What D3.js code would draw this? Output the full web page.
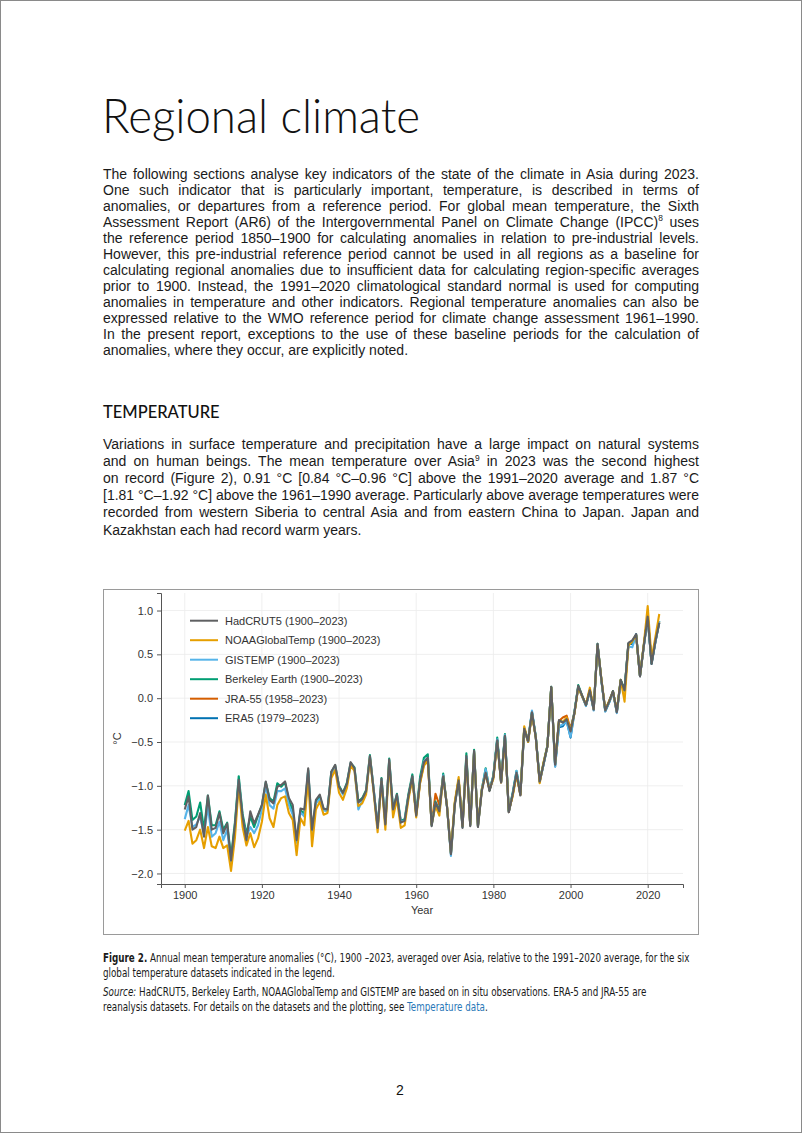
<!DOCTYPE html>
<html><head><meta charset="utf-8">
<script src="https://cdn.jsdelivr.net/npm/d3@7"></script>
<style>
html,body{margin:0;padding:0;background:#fff;}
svg{display:block;}
</style></head><body>
<svg id="page" width="802" height="1133"></svg>
<script>
// ---------------- DATA ----------------
const startYear = 1900;
const hadcrut5 = [
-1.27,-1.12,-1.50,-1.47,-1.31,-1.58,-1.11,-1.50,-1.48,-1.31,
-1.54,-1.43,-1.85,-1.45,-0.93,-1.35,-1.62,-1.29,-1.43,-1.33,
-1.22,-0.95,-1.16,-1.20,-1.01,-0.99,-0.95,-1.14,-1.22,-1.62,
-1.26,-1.27,-0.80,-1.50,-1.16,-1.10,-1.26,-1.27,-0.84,-0.76,
-1.01,-1.08,-0.98,-0.73,-0.80,-1.19,-1.15,-1.06,-0.66,-1.06,
-1.48,-0.92,-1.44,-0.70,-1.27,-1.10,-1.42,-1.40,-1.11,-0.89,
-1.34,-0.94,-0.73,-0.68,-1.46,-1.19,-1.29,-0.89,-1.25,-1.78,
-1.22,-0.94,-1.48,-0.66,-1.46,-0.60,-1.47,-1.06,-0.85,-1.06,
-0.90,-0.48,-0.96,-0.43,-1.30,-1.10,-0.85,-1.11,-0.35,-0.49,
-0.16,-0.45,-0.95,-0.75,-0.55,0.13,-0.76,-0.25,-0.28,-0.24,
-0.38,-0.17,0.14,0.03,-0.08,0.09,-0.13,0.62,0.21,-0.14,
-0.04,0.08,-0.16,0.21,0.09,0.63,0.66,0.73,0.25,0.60,
0.93,0.39,0.65,0.86];
const noaaGlobalTemp = [
-1.51,-1.40,-1.66,-1.62,-1.50,-1.71,-1.47,-1.69,-1.71,-1.58,
-1.71,-1.68,-1.97,-1.60,-0.99,-1.47,-1.68,-1.54,-1.70,-1.60,
-1.41,-1.10,-1.37,-1.47,-1.22,-1.14,-1.12,-1.31,-1.39,-1.79,
-1.37,-1.45,-0.91,-1.69,-1.27,-1.18,-1.33,-1.31,-0.91,-0.82,
-1.08,-1.16,-1.03,-0.77,-0.83,-1.23,-1.20,-1.10,-0.68,-1.09,
-1.53,-0.95,-1.50,-0.73,-1.36,-1.15,-1.48,-1.45,-1.15,-0.92,
-1.36,-0.97,-0.77,-0.72,-1.44,-1.23,-1.34,-0.90,-1.24,-1.76,
-1.18,-0.90,-1.46,-0.70,-1.44,-0.62,-1.45,-1.04,-0.87,-1.04,
-0.92,-0.50,-0.96,-0.47,-1.28,-1.12,-0.88,-1.10,-0.32,-0.50,
-0.18,-0.45,-0.97,-0.73,-0.55,0.12,-0.74,-0.26,-0.27,-0.22,
-0.36,-0.18,0.12,0.02,-0.07,0.12,-0.12,0.60,0.22,-0.13,
-0.03,0.07,-0.14,0.21,-0.04,0.60,0.65,0.72,0.26,0.62,
1.05,0.45,0.70,0.96];
const gistemp = [
-1.38,-1.22,-1.47,-1.44,-1.35,-1.56,-1.24,-1.58,-1.54,-1.41,
-1.62,-1.50,-1.89,-1.52,-0.94,-1.38,-1.58,-1.47,-1.54,-1.45,
-1.27,-1.00,-1.22,-1.26,-1.06,-1.06,-1.03,-1.22,-1.33,-1.65,
-1.30,-1.35,-0.83,-1.55,-1.20,-1.15,-1.28,-1.29,-0.86,-0.79,
-1.02,-1.10,-1.00,-0.75,-0.81,-1.27,-1.17,-1.08,-0.67,-1.05,
-1.47,-0.93,-1.42,-0.71,-1.30,-1.11,-1.41,-1.40,-1.12,-0.90,
-1.33,-0.95,-0.72,-0.68,-1.44,-1.20,-1.30,-0.88,-1.24,-1.80,
-1.21,-0.95,-1.47,-0.67,-1.45,-0.61,-1.46,-1.04,-0.81,-1.04,
-0.89,-0.47,-0.95,-0.42,-1.29,-1.09,-0.83,-1.09,-0.36,-0.48,
-0.14,-0.44,-0.96,-0.76,-0.55,0.12,-0.78,-0.32,-0.30,-0.27,
-0.44,-0.16,0.13,0.02,-0.09,0.08,-0.14,0.61,0.20,-0.15,
-0.05,0.06,-0.17,0.19,0.08,0.59,0.58,0.72,0.25,0.59,
0.92,0.40,0.64,0.88];
const berkeleyEarth = [
-1.22,-1.06,-1.39,-1.35,-1.19,-1.50,-1.11,-1.45,-1.45,-1.29,
-1.50,-1.42,-1.82,-1.42,-0.89,-1.32,-1.55,-1.35,-1.47,-1.34,
-1.22,-0.96,-1.14,-1.18,-0.97,-1.01,-0.96,-1.17,-1.28,-1.63,
-1.28,-1.32,-0.82,-1.52,-1.18,-1.12,-1.27,-1.27,-0.84,-0.77,
-1.00,-1.08,-0.97,-0.74,-0.79,-1.18,-1.14,-1.05,-0.65,-1.05,
-1.47,-0.91,-1.43,-0.69,-1.27,-1.09,-1.40,-1.38,-1.09,-0.87,
-1.31,-0.90,-0.68,-0.64,-1.45,-1.18,-1.28,-0.86,-1.25,-1.77,
-1.20,-0.93,-1.47,-0.63,-1.45,-0.59,-1.46,-1.04,-0.80,-1.05,
-0.88,-0.45,-0.95,-0.41,-1.29,-1.08,-0.83,-1.08,-0.34,-0.48,
-0.16,-0.44,-0.94,-0.74,-0.54,0.13,-0.75,-0.26,-0.27,-0.25,
-0.38,-0.16,0.15,0.03,-0.08,0.09,-0.12,0.62,0.21,-0.14,
-0.04,0.08,-0.15,0.21,0.10,0.62,0.64,0.72,0.26,0.61,
0.94,0.40,0.66,0.88];
const jra55Start = 1958;
const jra55 = [
-1.12,-0.90,
-1.33,-0.96,-0.75,-0.71,-1.44,-1.09,-1.22,-0.88,-1.24,-1.77,
-1.20,-0.93,-1.46,-0.69,-1.45,-0.61,-1.46,-1.05,-0.84,-1.05,
-0.90,-0.48,-0.96,-0.44,-1.30,-1.10,-0.86,-1.10,-0.35,-0.49,
-0.17,-0.45,-0.95,-0.75,-0.55,0.12,-0.76,-0.26,-0.22,-0.20,
-0.35,-0.17,0.13,0.03,-0.08,0.09,-0.13,0.61,0.21,-0.14,
-0.04,0.08,-0.16,0.20,0.09,0.62,0.64,0.72,0.25,0.60,
0.93,0.40,0.65,0.87];
const era5Start = 1979;
const era5 = [
-1.05,
-0.90,-0.48,-0.96,-0.43,-1.30,-1.10,-0.86,-1.10,-0.36,-0.50,
-0.16,-0.45,-0.95,-0.76,-0.55,0.12,-0.78,-0.33,-0.32,-0.26,
-0.45,-0.17,0.13,0.02,-0.08,0.08,-0.13,0.61,0.20,-0.15,
-0.05,0.07,-0.16,0.20,0.09,0.62,0.62,0.73,0.25,0.60,
0.92,0.39,0.64,0.86];

const seriesLabels = ["HadCRUT5 (1900–2023)","NOAAGlobalTemp (1900–2023)","GISTEMP (1900–2023)","Berkeley Earth (1900–2023)","JRA-55 (1958–2023)","ERA5 (1979–2023)"];
const seriesValues = [hadcrut5, noaaGlobalTemp, gistemp, berkeleyEarth, jra55, era5];
const seriesStarts = [startYear, startYear, startYear, startYear, jra55Start, era5Start];
const xTickValues = [1900,1920,1940,1960,1980,2000,2020];
const yTickValues = [-2.0,-1.5,-1.0,-0.5,0.0,0.5,1.0];

// styles (kept apart from data)
const seriesColors = ["#5f6062","#E69F00","#56B4E9","#009E73","#D55E00","#0072B2"];
const drawOrder = [5,4,3,2,1,0];

// ---------------- PAGE ----------------
const svg = d3.select("#page");
svg.append("rect").attr("width",802).attr("height",1133).attr("fill","#fff");
svg.append("rect").attr("x",0.5).attr("y",0.5).attr("width",801).attr("height",1132)
  .attr("fill","none").attr("stroke","#8a8a8a").attr("stroke-width",1);

svg.append("text").attr("x",102).attr("y",133)
  .attr("font-family","Lato, 'Open Sans', sans-serif").attr("font-weight",300)
  .attr("font-size",48).attr("fill","#111")
  .attr("textLength",318).attr("lengthAdjust","spacingAndGlyphs").text("Regional climate");

const bodyFont = "'Liberation Sans', Arial, sans-serif";
const bodySize = 14.0;
function addLine(parent, str, x, y, size, ls) {
  const t = parent.append("text").attr("x",x).attr("y",y)
    .attr("font-family",bodyFont).attr("font-size",size).attr("fill","#1a1a1a")
    .style("letter-spacing", (ls || 0) + "px");
  const parts = str.split(/(\^\d)/);
  let sup = false;
  parts.forEach(p => {
    if (!p) return;
    if (p.startsWith("^")) {
      t.append("tspan").attr("font-size",size*0.6).attr("dy",-size*0.38).text(p.slice(1));
      sup = true;
    } else {
      const ts = t.append("tspan").text(p);
      if (sup) { ts.attr("dy",size*0.38); sup = false; }
    }
  });
  return t;
}

const para1 = [
"The following sections analyse key indicators of the state of the climate in Asia during 2023.",
"One such indicator that is particularly important, temperature, is described in terms of",
"anomalies, or departures from a reference period. For global mean temperature, the Sixth",
"Assessment Report (AR6) of the Intergovernmental Panel on Climate Change (IPCC)^8 uses",
"the reference period 1850–1900 for calculating anomalies in relation to pre-industrial levels.",
"However, this pre-industrial reference period cannot be used in all regions as a baseline for",
"calculating regional anomalies due to insufficient data for calculating region-specific averages",
"prior to 1900. Instead, the 1991–2020 climatological standard normal is used for computing",
"anomalies in temperature and other indicators. Regional temperature anomalies can also be",
"expressed relative to the WMO reference period for climate change assessment 1961–1990.",
"In the present report, exceptions to the use of these baseline periods for the calculation of",
"anomalies, where they occur, are explicitly noted."];
const para2 = [
"Variations in surface temperature and precipitation have a large impact on natural systems",
"and on human beings. The mean temperature over Asia^9 in 2023 was the second highest",
"on record (Figure 2), 0.91 °C [0.84 °C–0.96 °C] above the 1991–2020 average and 1.87 °C",
"[1.81 °C–1.92 °C] above the 1961–1990 average. Particularly above average temperatures were",
"recorded from western Siberia to central Asia and from eastern China to Japan. Japan and",
"Kazakhstan each had record warm years."];

function natural(s) {
  const p = addLine(svg, s, 0, -50, bodySize, 0);
  const w = p.node().getComputedTextLength(); p.remove(); return w;
}
const l2 = para2[para2.length-1];
const baseLS = Math.max(0, Math.min(0.8, (255 - natural(l2)) / l2.length));

function drawPara(lines, y0, lh) {
  lines.forEach((s,i) => {
    const nch = s.replace("^","").length;
    let ls = baseLS;
    const w0 = natural(s);
    if (i < lines.length-1 && w0 + ls*nch > 596) ls = Math.max(0, (596 - w0) / nch);
    const t = addLine(svg, s, 103, y0 + i*lh, bodySize, ls);
    if (i < lines.length-1) {
      const w = t.node().getComputedTextLength();
      const spaces = (s.match(/ /g) || []).length;
      if (w < 596 && spaces > 0) {
        t.style("word-spacing", ((596 - w) / spaces) + "px");
        const w2 = t.node().getComputedTextLength();
        if (Math.abs(w2 - 596) > 2) {
          t.style("word-spacing", null);
          t.attr("textLength",596).attr("lengthAdjust","spacing");
        }
      } else if (w > 597) {
        t.attr("textLength",596).attr("lengthAdjust","spacingAndGlyphs");
      }
    }
  });
}
drawPara(para1, 178.5, 16.05);
svg.append("text").attr("x",103).attr("y",418).attr("font-family","Lato, sans-serif")
  .attr("font-weight",500).attr("font-size",16.5).attr("fill","#111").text("TEMPERATURE");
drawPara(para2, 449, 17.1);

// ---------------- CHART ----------------
svg.append("rect").attr("x",103.5).attr("y",589.5).attr("width",595).attr("height",345)
  .attr("fill","none").attr("stroke","#9a9a9a").attr("stroke-width",1);

const x = d3.scaleLinear().domain([1893.85, 2029.15]).range([161, 683]);
const y = d3.scaleLinear().domain([-2.12, 1.2]).range([884, 593]);
const chartFont = "'Liberation Sans', Arial, sans-serif";
const g = svg.append("g");

// grid
g.append("g").selectAll("line").data(xTickValues).join("line")
  .attr("x1",d=>x(d)).attr("x2",d=>x(d)).attr("y1",y.range()[1]).attr("y2",y.range()[0])
  .attr("stroke","#ebebeb").attr("stroke-width",0.8);
g.append("g").selectAll("line").data(yTickValues).join("line")
  .attr("x1",x.range()[0]).attr("x2",x.range()[1]).attr("y1",d=>y(d)).attr("y2",d=>y(d))
  .attr("stroke","#ebebeb").attr("stroke-width",0.8);

const fmtY = d => d3.format(".1f")(d).replace("-","−");
const yAxis = g.append("g").attr("transform",`translate(${x.range()[0]},0)`)
  .call(d3.axisLeft(y).tickValues(yTickValues).tickFormat(fmtY).tickSizeOuter(0).tickSize(4).tickPadding(4));
const xAxis = g.append("g").attr("transform",`translate(0,${y.range()[0]})`)
  .call(d3.axisBottom(x).tickValues(xTickValues).tickFormat(d3.format("d")).tickSizeOuter(0).tickSize(4).tickPadding(3));
[yAxis,xAxis].forEach(a => {
  a.select(".domain").attr("stroke","#555").attr("stroke-width",1);
  a.selectAll(".tick line").attr("stroke","#555");
  a.selectAll(".tick text").attr("font-family",chartFont).attr("font-size",11).attr("fill","#333");
});

// lines
const line = d3.line().x(d=>x(d.year)).y(d=>y(d.v)).curve(d3.curveLinear);
drawOrder.forEach(i => {
  const pts = seriesValues[i].map((v,k) => ({year: seriesStarts[i]+k, v}));
  g.append("path").datum(pts).attr("d",line).attr("fill","none")
    .attr("stroke",seriesColors[i]).attr("stroke-width",2.1)
    .attr("stroke-linejoin","round").attr("stroke-linecap","butt");
});

// axis titles
g.append("text").attr("x",(x.range()[0]+x.range()[1])/2).attr("y",914).attr("text-anchor","middle")
  .attr("font-family",chartFont).attr("font-size",11).attr("fill","#333").text("Year");
g.append("text").attr("transform",`translate(121,${(y.range()[0]+y.range()[1])/2}) rotate(-90)`)
  .attr("text-anchor","middle").attr("font-family",chartFont).attr("font-size",11).attr("fill","#333").text("°C");

// legend
const leg = g.append("g");
seriesLabels.forEach((lab,i) => {
  const yy = 620.7 + i*19.5;
  leg.append("line").attr("x1",190).attr("x2",218).attr("y1",yy).attr("y2",yy)
    .attr("stroke",seriesColors[i]).attr("stroke-width",2);
  leg.append("text").attr("x",225).attr("y",yy+4).attr("font-family",chartFont)
    .attr("font-size",11).attr("fill","#333").text(lab);
});

// ---------------- CAPTION ----------------
const capFont = "'Liberation Sans Narrow', 'DejaVu Sans Condensed', 'Liberation Sans', Arial, sans-serif";
const cap = svg.append("g");
function capLine(y0, parts) {
  const t = cap.append("text").attr("x",0).attr("y",y0).attr("font-family",capFont)
    .attr("font-size",11.8).attr("fill","#1a1a1a");
  parts.forEach(p => {
    const ts = t.append("tspan").text(p.t);
    if (p.b) ts.attr("font-weight","bold");
    if (p.i) ts.attr("font-style","italic");
    if (p.c) ts.attr("fill",p.c);
  });
  return t;
}
const c1 = capLine(962, [{t:"Figure 2.",b:1},{t:" Annual mean temperature anomalies (°C), 1900 –2023, averaged over Asia, relative to the 1991–2020 average, for the six"}]);
capLine(977, [{t:"global temperature datasets indicated in the legend."}]);
capLine(996, [{t:"Source:",i:1},{t:" HadCRUT5, Berkeley Earth, NOAAGlobalTemp and GISTEMP are based on in situ observations. ERA-5 and JRA-55 are"}]);
capLine(1011, [{t:"reanalysis datasets. For details on the datasets and the plotting, see "},{t:"Temperature data",c:"#2a78b8"},{t:"."}]);
const capScale = 587 / c1.node().getComputedTextLength();
cap.attr("transform",`translate(103,0) scale(${capScale},1)`);

svg.append("text").attr("x",400).attr("y",1095).attr("text-anchor","middle")
  .attr("font-family",bodyFont).attr("font-size",14).attr("fill","#111").text("2");
</script>
</body></html>
